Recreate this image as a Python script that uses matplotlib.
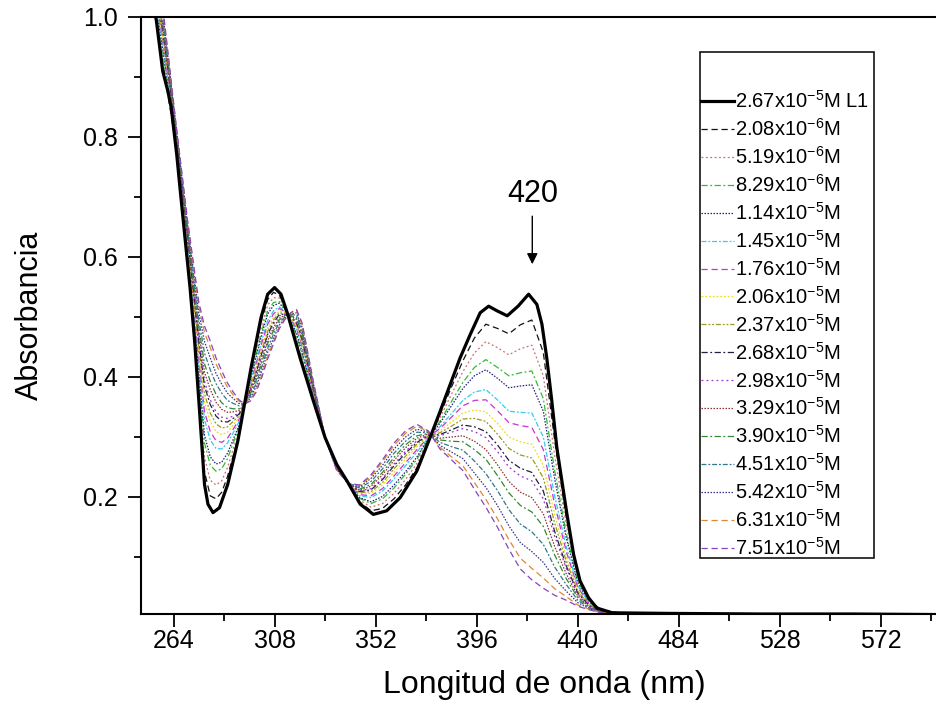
import matplotlib
matplotlib.use('Agg')
import matplotlib.pyplot as plt
from matplotlib.ticker import FixedLocator
from matplotlib.patches import Rectangle

plt.rcParams['font.family'] = ['Liberation Sans', 'DejaVu Sans']
plt.rcParams['mathtext.fontset'] = 'custom'
plt.rcParams['mathtext.rm'] = 'Liberation Sans'
plt.rcParams['mathtext.it'] = 'Liberation Sans:italic'
plt.rcParams['mathtext.bf'] = 'Liberation Sans:bold'

# ---------------- data ----------------
# ligand alone (thick black)
L1_WL = [250, 254, 256.5, 259.3, 261.5, 263, 265.4, 266.8, 269, 271.2, 273.2, 275.4, 277.5, 279,
         281.2, 284, 287.6, 292, 297.8, 302.1, 305, 308, 310.8, 313.7, 316.2, 319.1, 324.9, 330,
         335.1, 339.5, 345.3, 351, 356.8, 362.7, 369.9, 375.7, 380.1, 384.5, 388.8, 393.2, 397.5,
         401.2, 405, 409.3, 414, 418.6, 422.2, 424.4, 426.5, 428.7, 430.9, 435.3, 438.2, 441,
         444.7, 448.3, 455, 480, 520, 560, 597]
L1_ABS = [1.15, 1.04, 0.995, 0.91, 0.877, 0.849, 0.771, 0.716, 0.632, 0.549, 0.46, 0.34, 0.221, 0.188,
          0.174, 0.182, 0.221, 0.293, 0.416, 0.499, 0.538, 0.549, 0.538, 0.505, 0.471, 0.432, 0.36, 0.299,
          0.254, 0.227, 0.188, 0.171, 0.177, 0.199, 0.243, 0.299, 0.343, 0.388, 0.432, 0.471, 0.507,
          0.518, 0.51, 0.502, 0.518, 0.538, 0.521, 0.488, 0.432, 0.36, 0.282, 0.171, 0.104, 0.06,
          0.032, 0.015, 0.007, 0.006, 0.005, 0.005, 0.004]

# titration spectra on a common wavelength grid
WL = [250, 255, 260, 265, 270, 275, 277.5, 280, 282.5, 285, 287.5, 290, 292.5, 295, 297.5, 300,
      302.5, 305, 307.5, 310, 312.5, 315, 317.5, 320, 325, 330, 335, 340, 345, 350, 355, 360, 365,
      370, 375, 380, 385, 390, 395, 400, 405, 410, 415, 420, 425, 430, 435, 440, 445, 450,
      460, 480, 520, 560, 597]
TAIL = [0.006, 0.005, 0.005, 0.004, 0.004]

S_208e6 = [1.162, 1.028, 0.908, 0.788, 0.601, 0.369, 0.242, 0.202, 0.197, 0.208, 0.234, 0.269, 0.305, 0.355, 0.406, 0.453, 0.497, 0.529, 0.541, 0.537, 0.518, 0.490, 0.460, 0.426,
           0.362, 0.299, 0.254, 0.223, 0.192, 0.177, 0.181, 0.197, 0.220, 0.249, 0.293, 0.337, 0.383, 0.427, 0.465, 0.488, 0.481, 0.472, 0.487, 0.495, 0.441, 0.293, 0.166, 0.070, 0.029, 0.012]
S_519e6 = [1.176, 1.037, 0.916, 0.792, 0.607, 0.384, 0.266, 0.228, 0.220, 0.227, 0.249, 0.280, 0.311, 0.355, 0.402, 0.446, 0.487, 0.520, 0.532, 0.532, 0.516, 0.491, 0.465, 0.432,
           0.364, 0.299, 0.253, 0.223, 0.195, 0.183, 0.189, 0.206, 0.229, 0.256, 0.295, 0.332, 0.371, 0.409, 0.440, 0.459, 0.449, 0.437, 0.447, 0.453, 0.402, 0.268, 0.153, 0.065, 0.027, 0.011]
S_829e6 = [1.189, 1.046, 0.925, 0.795, 0.613, 0.399, 0.290, 0.253, 0.243, 0.247, 0.264, 0.290, 0.316, 0.355, 0.397, 0.438, 0.478, 0.510, 0.524, 0.526, 0.514, 0.493, 0.470, 0.438,
           0.367, 0.299, 0.252, 0.223, 0.198, 0.189, 0.197, 0.215, 0.238, 0.263, 0.297, 0.326, 0.359, 0.391, 0.416, 0.429, 0.416, 0.402, 0.407, 0.410, 0.364, 0.243, 0.139, 0.060, 0.025, 0.011]
S_114e5 = [1.197, 1.051, 0.930, 0.797, 0.617, 0.408, 0.303, 0.267, 0.255, 0.258, 0.273, 0.296, 0.319, 0.355, 0.395, 0.434, 0.472, 0.505, 0.519, 0.523, 0.513, 0.494, 0.473, 0.442,
           0.369, 0.299, 0.252, 0.223, 0.199, 0.192, 0.201, 0.220, 0.242, 0.267, 0.298, 0.323, 0.352, 0.381, 0.402, 0.412, 0.398, 0.382, 0.385, 0.387, 0.343, 0.229, 0.132, 0.057, 0.024, 0.010]
S_145e5 = [1.212, 1.061, 0.939, 0.801, 0.624, 0.425, 0.329, 0.295, 0.281, 0.280, 0.290, 0.307, 0.325, 0.355, 0.390, 0.425, 0.462, 0.494, 0.510, 0.517, 0.510, 0.496, 0.479, 0.449,
           0.372, 0.299, 0.251, 0.223, 0.202, 0.199, 0.210, 0.230, 0.252, 0.275, 0.299, 0.317, 0.339, 0.361, 0.375, 0.379, 0.362, 0.343, 0.341, 0.340, 0.300, 0.201, 0.117, 0.052, 0.023, 0.010]
S_176e5 = [1.219, 1.066, 0.944, 0.803, 0.627, 0.433, 0.342, 0.309, 0.294, 0.291, 0.298, 0.313, 0.329, 0.355, 0.387, 0.421, 0.457, 0.488, 0.505, 0.514, 0.509, 0.497, 0.482, 0.452,
           0.373, 0.299, 0.250, 0.223, 0.204, 0.202, 0.214, 0.235, 0.257, 0.279, 0.300, 0.314, 0.333, 0.352, 0.361, 0.362, 0.344, 0.324, 0.319, 0.316, 0.279, 0.187, 0.109, 0.049, 0.022, 0.010]
S_206e5 = [1.228, 1.072, 0.949, 0.806, 0.631, 0.443, 0.358, 0.326, 0.309, 0.304, 0.308, 0.320, 0.332, 0.355, 0.384, 0.416, 0.450, 0.482, 0.500, 0.510, 0.508, 0.498, 0.485, 0.456,
           0.375, 0.299, 0.250, 0.223, 0.206, 0.206, 0.220, 0.241, 0.263, 0.284, 0.301, 0.310, 0.325, 0.340, 0.345, 0.342, 0.323, 0.300, 0.292, 0.288, 0.253, 0.170, 0.100, 0.045, 0.021, 0.009]
S_237e5 = [1.236, 1.077, 0.954, 0.808, 0.635, 0.452, 0.372, 0.340, 0.322, 0.315, 0.317, 0.326, 0.335, 0.355, 0.382, 0.412, 0.445, 0.476, 0.495, 0.507, 0.506, 0.499, 0.488, 0.460,
           0.377, 0.299, 0.249, 0.223, 0.207, 0.209, 0.224, 0.247, 0.268, 0.288, 0.302, 0.307, 0.318, 0.330, 0.331, 0.326, 0.305, 0.281, 0.270, 0.265, 0.232, 0.156, 0.093, 0.043, 0.020, 0.009]
S_268e5 = [1.243, 1.082, 0.959, 0.810, 0.638, 0.460, 0.385, 0.354, 0.335, 0.326, 0.325, 0.331, 0.338, 0.355, 0.379, 0.407, 0.440, 0.471, 0.490, 0.504, 0.505, 0.500, 0.491, 0.463,
           0.378, 0.299, 0.249, 0.223, 0.209, 0.212, 0.229, 0.252, 0.273, 0.291, 0.303, 0.304, 0.312, 0.320, 0.317, 0.309, 0.287, 0.261, 0.248, 0.241, 0.210, 0.142, 0.085, 0.040, 0.019, 0.009]
S_298e5 = [1.248, 1.085, 0.962, 0.811, 0.641, 0.466, 0.393, 0.362, 0.342, 0.333, 0.331, 0.335, 0.340, 0.355, 0.378, 0.405, 0.437, 0.468, 0.488, 0.502, 0.504, 0.500, 0.493, 0.466,
           0.379, 0.299, 0.248, 0.223, 0.210, 0.214, 0.231, 0.255, 0.276, 0.294, 0.304, 0.302, 0.308, 0.314, 0.309, 0.299, 0.276, 0.250, 0.235, 0.227, 0.197, 0.134, 0.081, 0.038, 0.018, 0.009]
S_329e5 = [1.257, 1.091, 0.968, 0.813, 0.645, 0.476, 0.408, 0.379, 0.358, 0.346, 0.341, 0.342, 0.344, 0.355, 0.375, 0.400, 0.430, 0.461, 0.482, 0.498, 0.503, 0.502, 0.496, 0.470,
           0.381, 0.299, 0.248, 0.223, 0.211, 0.218, 0.237, 0.261, 0.282, 0.298, 0.305, 0.298, 0.300, 0.302, 0.293, 0.279, 0.254, 0.226, 0.208, 0.199, 0.172, 0.117, 0.072, 0.035, 0.017, 0.008]
S_390e5 = [1.264, 1.096, 0.972, 0.815, 0.648, 0.484, 0.422, 0.393, 0.371, 0.357, 0.349, 0.347, 0.347, 0.355, 0.372, 0.395, 0.425, 0.456, 0.477, 0.495, 0.502, 0.502, 0.499, 0.473,
           0.383, 0.299, 0.247, 0.223, 0.213, 0.221, 0.241, 0.266, 0.287, 0.302, 0.306, 0.295, 0.293, 0.292, 0.279, 0.263, 0.236, 0.207, 0.186, 0.175, 0.151, 0.103, 0.064, 0.032, 0.016, 0.008]
S_451e5 = [1.275, 1.103, 0.979, 0.818, 0.653, 0.496, 0.440, 0.412, 0.389, 0.373, 0.361, 0.356, 0.352, 0.355, 0.369, 0.389, 0.418, 0.448, 0.471, 0.491, 0.500, 0.504, 0.503, 0.478,
           0.385, 0.299, 0.247, 0.223, 0.215, 0.226, 0.247, 0.273, 0.293, 0.308, 0.307, 0.291, 0.284, 0.278, 0.260, 0.239, 0.211, 0.179, 0.155, 0.142, 0.121, 0.083, 0.054, 0.028, 0.015, 0.008]
S_542e5 = [1.285, 1.110, 0.986, 0.821, 0.658, 0.508, 0.459, 0.432, 0.406, 0.388, 0.373, 0.364, 0.356, 0.355, 0.365, 0.384, 0.411, 0.441, 0.464, 0.486, 0.498, 0.505, 0.507, 0.483,
           0.387, 0.299, 0.246, 0.223, 0.217, 0.231, 0.253, 0.280, 0.300, 0.313, 0.308, 0.286, 0.275, 0.264, 0.240, 0.216, 0.186, 0.152, 0.124, 0.109, 0.091, 0.064, 0.043, 0.024, 0.014, 0.008]
S_631e5 = [1.294, 1.116, 0.991, 0.823, 0.662, 0.518, 0.474, 0.449, 0.422, 0.401, 0.383, 0.370, 0.360, 0.355, 0.362, 0.378, 0.404, 0.434, 0.459, 0.483, 0.497, 0.506, 0.511, 0.487,
           0.389, 0.299, 0.245, 0.223, 0.219, 0.234, 0.259, 0.286, 0.306, 0.318, 0.309, 0.283, 0.267, 0.252, 0.224, 0.196, 0.164, 0.129, 0.098, 0.081, 0.065, 0.047, 0.034, 0.020, 0.013, 0.007]
S_751e5 = [1.300, 1.120, 0.995, 0.825, 0.665, 0.525, 0.485, 0.460, 0.432, 0.410, 0.390, 0.375, 0.362, 0.355, 0.360, 0.375, 0.400, 0.430, 0.455, 0.480, 0.496, 0.507, 0.513, 0.490,
           0.390, 0.300, 0.245, 0.223, 0.220, 0.237, 0.262, 0.290, 0.310, 0.321, 0.310, 0.280, 0.262, 0.244, 0.213, 0.183, 0.150, 0.113, 0.080, 0.062, 0.048, 0.036, 0.028, 0.018, 0.012, 0.007]

SERIES = [S_208e6, S_519e6, S_829e6, S_114e5, S_145e5, S_176e5, S_206e5, S_237e5, S_268e5,
          S_298e5, S_329e5, S_390e5, S_451e5, S_542e5, S_631e5, S_751e5]
LABEL_L1 = '2.67x10$^{-5}$M L1'
LABELS = ['2.08x10$^{-6}$M', '5.19x10$^{-6}$M', '8.29x10$^{-6}$M', '1.14x10$^{-5}$M',
          '1.45x10$^{-5}$M', '1.76x10$^{-5}$M', '2.06x10$^{-5}$M', '2.37x10$^{-5}$M',
          '2.68x10$^{-5}$M', '2.98x10$^{-5}$M', '3.29x10$^{-5}$M', '3.90x10$^{-5}$M',
          '4.51x10$^{-5}$M', '5.42x10$^{-5}$M', '6.31x10$^{-5}$M', '7.51x10$^{-5}$M']
X_TICKS = [264, 308, 352, 396, 440, 484, 528, 572]
X_MINOR = [286, 330, 374, 418, 462, 506, 550, 594]
Y_TICKS = [0.2, 0.4, 0.6, 0.8, 1.0]
Y_MINOR = [0.1, 0.3, 0.5, 0.7, 0.9]

# ---------------- style ----------------
COLORS = ['#111111', '#c87070', '#33bb33', '#202080', '#33ccee', '#cc33cc', '#eedd22', '#999922',
          '#202040', '#9933cc', '#883333', '#338833', '#337788', '#333388', '#dd8833', '#8844bb']
STYLES = [(0, (5, 3)), (0, (1.5, 2)), (0, (5, 2, 1.5, 2)), (0, (1.2, 1.2)), (0, (4, 1.5, 1.5, 1.5)),
          (0, (5, 3)), (0, (1.5, 1.5)), (0, (4, 1.5, 1.5, 1.5, 1.5, 1.5)), (0, (5, 2, 1.5, 2)),
          (0, (1.5, 2.5)), (0, (1.2, 1.2)), (0, (5, 2, 1.5, 2)), (0, (4, 1.5, 1.5, 1.5)),
          (0, (1.2, 1.2)), (0, (5, 3)), (0, (5, 3))]

W, H = 937, 713
fig = plt.figure(figsize=(W / 100, H / 100), dpi=100)
ax = fig.add_axes([141 / W, 99 / H, 796 / W, 597 / H])

handles = []
for vals, col, ls in zip(SERIES, COLORS, STYLES):
    ln, = ax.plot(WL, vals + TAIL, color=col, lw=0.9, linestyle=ls, zorder=2)
    handles.append(ln)
hL1, = ax.plot(L1_WL, L1_ABS, color='black', lw=2.3, zorder=5, solid_joinstyle='round')

ax.set_xlim(249.85, 596.4)
ax.set_ylim(0.005, 1.0)

ax.xaxis.set_major_locator(FixedLocator(X_TICKS))
ax.xaxis.set_minor_locator(FixedLocator(X_MINOR))
ax.yaxis.set_major_locator(FixedLocator(Y_TICKS))
ax.yaxis.set_minor_locator(FixedLocator(Y_MINOR))
ax.set_yticklabels(['0.2', '0.4', '0.6', '0.8', '1.0'])

ax.tick_params(axis='both', which='major', direction='out', length=9.5, width=1.3,
               labelsize=18, colors='black')
ax.tick_params(axis='both', which='minor', direction='out', length=5, width=1.3)
ax.tick_params(axis='x', which='major', pad=1.5)
ax.tick_params(axis='y', which='major', pad=7)

for side in ['left', 'bottom', 'top']:
    ax.spines[side].set_linewidth(1.5)
    ax.spines[side].set_color('black')
ax.spines['right'].set_visible(False)

fig.text(544 / W, 1 - 685 / H, 'Longitud de onda (nm)', ha='center', va='center', fontsize=23)
fig.text(30 / W, 1 - 315 / H, 'Absorbancia', ha='center', va='center', rotation=90, fontsize=22)

ax.annotate('', xy=(420.2, 0.588), xytext=(420.2, 0.668),
            arrowprops=dict(arrowstyle='-|>', color='black', lw=1.0, mutation_scale=16,
                            shrinkA=0, shrinkB=0))
ax.text(420.6, 0.705, '420', ha='center', va='center', fontsize=22)

# legend (Origin style box with empty space on top)
ax.add_patch(Rectangle((700 / W, 1 - 558 / H), 174 / W, 506 / H, transform=fig.transFigure,
                       fill=True, facecolor='white', edgecolor='black', lw=1.1, zorder=9,
                       clip_on=False))
leg = ax.legend([hL1] + handles, [LABEL_L1] + LABELS, loc='upper left',
                bbox_to_anchor=(701 / W, 1 - 90 / H), bbox_transform=fig.transFigure,
                frameon=False, fontsize=14.5, handlelength=1.62, handletextpad=0.05,
                labelspacing=0.3, borderpad=0, borderaxespad=0)
leg.set_zorder(10)

fig.savefig('out.png', dpi=100, facecolor='white')
